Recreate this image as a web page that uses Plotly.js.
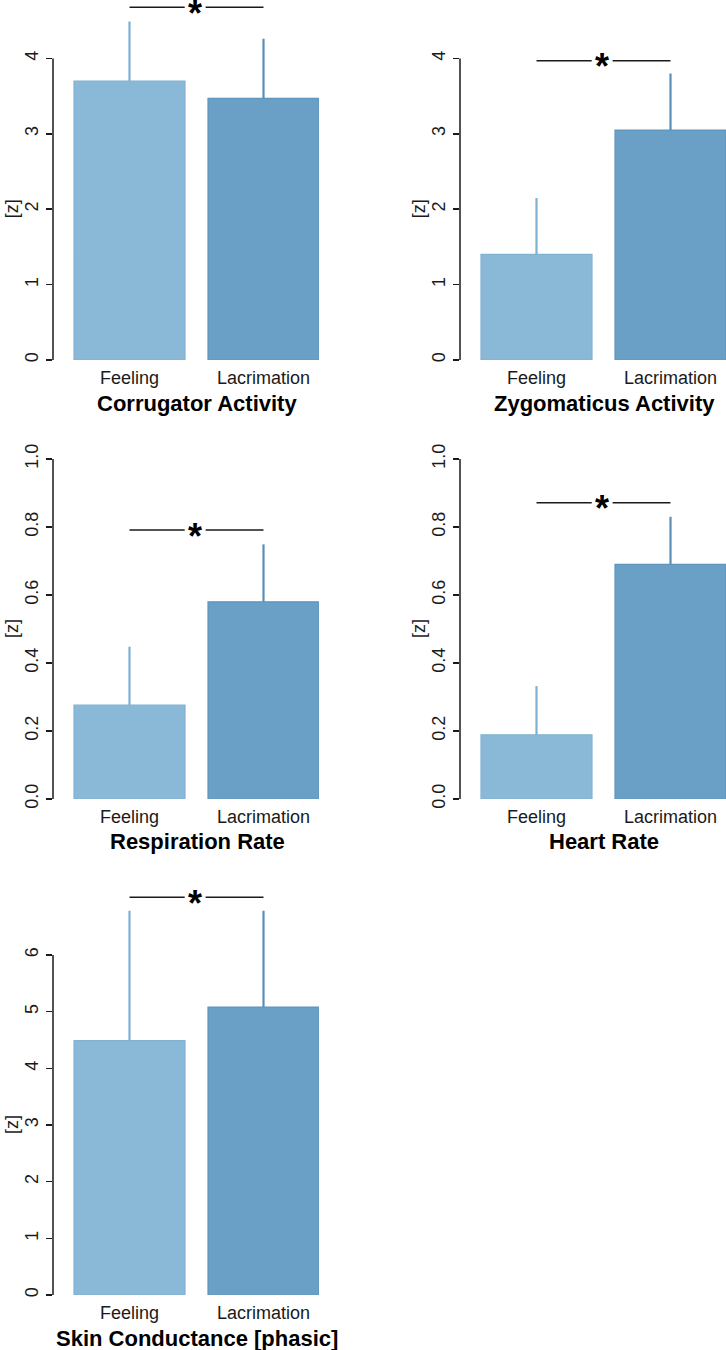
<!DOCTYPE html>
<html>
<head>
<meta charset="utf-8">
<script src="https://cdn.plot.ly/plotly-3.0.1.min.js"></script>
<style>
  html, body { margin: 0; padding: 0; background: #ffffff; }
  #chart { width: 726px; height: 1350px; }
</style>
</head>
<body>
<div id="chart"></div>
<script>
// ---------- data ----------
const categories = ["Feeling", "Lacrimation"];
const panelTitles = ["Corrugator Activity", "Zygomaticus Activity", "Respiration Rate", "Heart Rate", "Skin Conductance [phasic]"];
const yAxisLabel = "[z]";
const meanCorrugator = [3.70, 3.47];
const seCorrugator = [0.79, 0.79];
const meanZygomaticus = [1.40, 3.05];
const seZygomaticus = [0.75, 0.75];
const meanRespiration = [0.276, 0.580];
const seRespiration = [0.172, 0.169];
const meanHeartRate = [0.189, 0.690];
const seHeartRate = [0.143, 0.140];
const meanSkinConductance = [4.49, 5.08];
const seSkinConductance = [2.29, 1.70];
const sigLevels = [4.68, 3.97, 0.791, 0.871, 7.02];
const sigMark = "*";
const ticksCorrugator = [0, 1, 2, 3, 4];
const ticksZygomaticus = [0, 1, 2, 3, 4];
const ticksRespiration = [0, 0.2, 0.4, 0.6, 0.8, 1.0];
const ticksHeartRate = [0, 0.2, 0.4, 0.6, 0.8, 1.0];
const ticksSkinConductance = [0, 1, 2, 3, 4, 5, 6];

// ---------- layout / style ----------
const W = 726, H = 1350;
const FONT = "Liberation Sans, Arial, Helvetica, sans-serif";
const barFill = ["#89b9d7", "#6aa0c6"];
const barEdge = ["#80b2d2", "#5f95bd"];
const errColor = ["#7eb0d0", "#5a8eb7"];
const ink = "#1a1a1a";

const panels = [
  {mean: meanCorrugator, se: seCorrugator, ticks: ticksCorrugator, fmt: "d", col: 0, y0: 360, scale: 75.4, top: 4.75},
  {mean: meanZygomaticus, se: seZygomaticus, ticks: ticksZygomaticus, fmt: "d", col: 1, y0: 360, scale: 75.4, top: 4.75},
  {mean: meanRespiration, se: seRespiration, ticks: ticksRespiration, fmt: ".1f", col: 0, y0: 799, scale: 340, top: 1.01},
  {mean: meanHeartRate, se: seHeartRate, ticks: ticksHeartRate, fmt: ".1f", col: 1, y0: 799, scale: 340, top: 1.01},
  {mean: meanSkinConductance, se: seSkinConductance, ticks: ticksSkinConductance, fmt: "d", col: 0, y0: 1295, scale: 56.67, top: 7.25}
];

const axisX = [53, 460];           // pixel x of each column's y axis
const catSpacing = 134;            // pixels between bar centres
const firstCentreOffset = 76.5;    // axis -> first bar centre
const plotWidth = 266;
const barWidthUnits = 111 / catSpacing;

const traces = [];
const shapes = [];
const annotations = [];
const layout = {
  width: W, height: H,
  margin: {l: 0, r: 0, t: 0, b: 0},
  paper_bgcolor: "#ffffff",
  plot_bgcolor: "rgba(0,0,0,0)",
  showlegend: false,
  barmode: "overlay",
  font: {family: FONT, color: ink},
  shapes: shapes,
  annotations: annotations
};

panels.forEach((p, i) => {
  const n = i + 1;
  const xs = n === 1 ? "x" : "x" + n;
  const ys = n === 1 ? "y" : "y" + n;
  const ax = axisX[p.col];
  const xLeft = -firstCentreOffset / catSpacing;
  const xRight = xLeft + plotWidth / catSpacing;
  const yTopPx = p.y0 - p.top * p.scale;

  layout["xaxis" + (n === 1 ? "" : n)] = {
    domain: [ax / W, (ax + plotWidth) / W],
    range: [xLeft, xRight],
    anchor: ys,
    showgrid: false, zeroline: false, showline: false,
    ticks: "",
    tickvals: [0, 1],
    ticktext: categories,
    ticklabelstandoff: 5,
    tickfont: {family: FONT, size: 18, color: ink},
    fixedrange: true
  };
  layout["yaxis" + (n === 1 ? "" : n)] = {
    domain: [1 - p.y0 / H, 1 - yTopPx / H],
    range: [0, p.top],
    anchor: xs,
    showgrid: false, zeroline: false, showline: false,
    ticks: "outside", ticklen: 6, tickwidth: 1.5, tickcolor: ink,
    tickvals: p.ticks,
    tickformat: p.fmt,
    tickangle: -90,
    ticklabelstandoff: 1,
    tickfont: {family: FONT, size: 18, color: ink},
    fixedrange: true
  };

  categories.forEach((c, j) => {
    traces.push({
      type: "bar",
      x: [j], y: [p.mean[j]],
      width: barWidthUnits,
      xaxis: xs, yaxis: ys,
      marker: {color: barFill[j], line: {color: barEdge[j], width: 1.2}},
      error_y: {type: "data", symmetric: false, array: [p.se[j]], arrayminus: [0],
                color: errColor[j], thickness: 2.2, width: 0},
      hoverinfo: "skip"
    });
  });

  // R-style axis line spanning only the tick range
  const maxTick = p.ticks[p.ticks.length - 1];
  shapes.push({type: "line", xref: "paper", yref: ys, x0: ax / W, x1: ax / W,
               y0: 0, y1: maxTick, line: {color: ink, width: 1.5}});

  // significance bracket with a gap for the star
  const gap = 0.078;
  shapes.push({type: "line", xref: xs, yref: ys, x0: 0, x1: 0.49 - gap,
               y0: sigLevels[i], y1: sigLevels[i], line: {color: ink, width: 1.5}});
  shapes.push({type: "line", xref: xs, yref: ys, x0: 0.49 + gap, x1: 1,
               y0: sigLevels[i], y1: sigLevels[i], line: {color: ink, width: 1.5}});
  annotations.push({xref: xs, yref: ys, x: 0.49, y: sigLevels[i], text: "<b>" + sigMark + "</b>",
                    showarrow: false, xanchor: "center", yanchor: "middle", yshift: -6,
                    font: {family: FONT, size: 36, color: "#000"}});

  // y axis label
  annotations.push({xref: "paper", yref: ys, x: (ax - 41) / W, y: maxTick / 2, text: yAxisLabel,
                    showarrow: false, textangle: -90, xanchor: "center", yanchor: "middle",
                    font: {family: FONT, size: 18, color: ink}});

  // panel title below
  annotations.push({xref: "paper", yref: "paper", x: (ax + 144) / W, y: 1 - (p.y0 + 43) / H,
                    text: "<b>" + panelTitles[i] + "</b>", showarrow: false,
                    xanchor: "center", yanchor: "middle",
                    font: {family: FONT, size: 22, color: "#000"}});
});

Plotly.newPlot("chart", traces, layout, {displayModeBar: false, staticPlot: true});
</script>
</body>
</html>
